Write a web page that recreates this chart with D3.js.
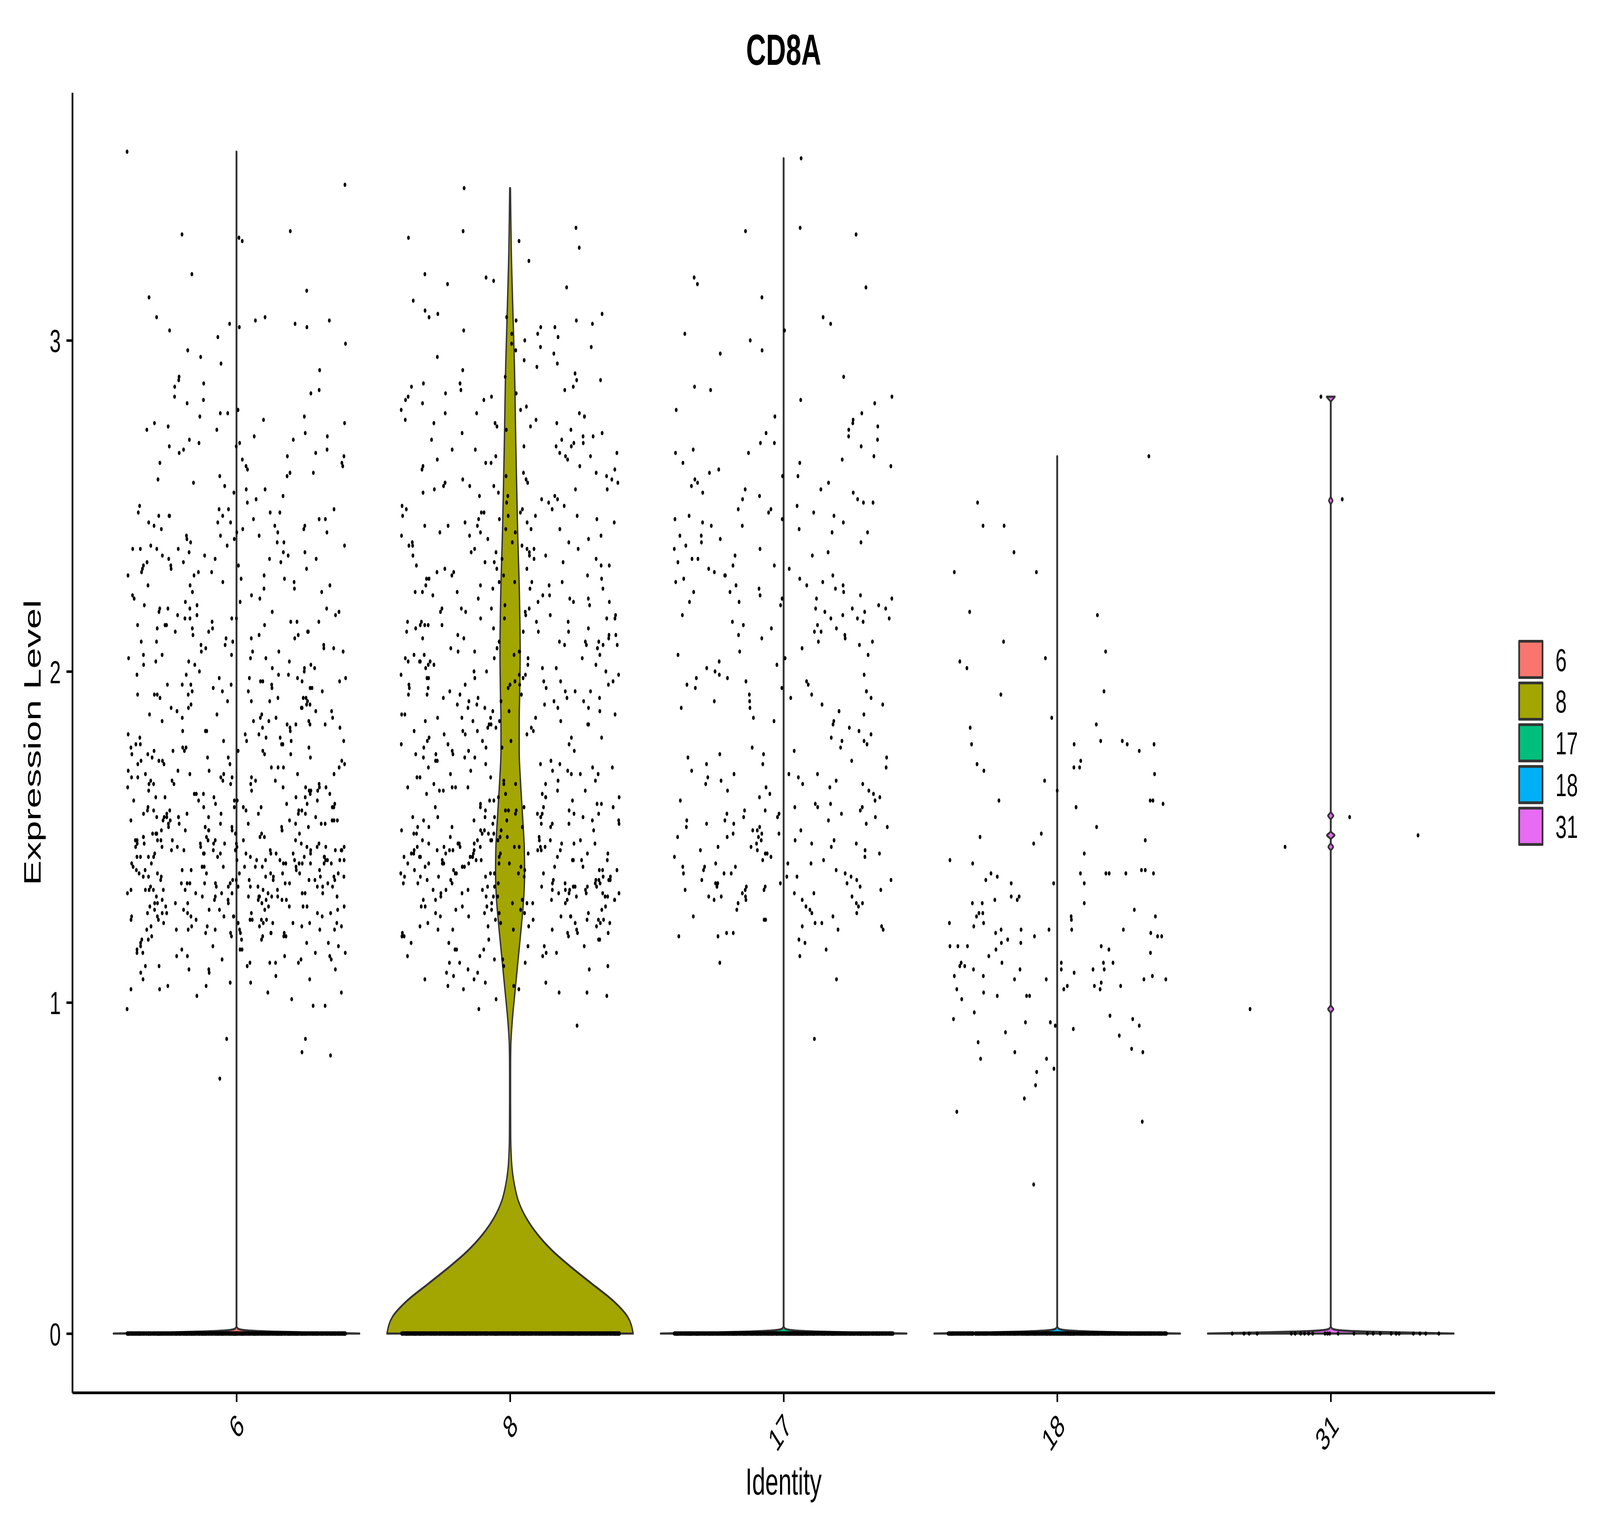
<!DOCTYPE html>
<html>
<head>
<meta charset="utf-8">
<script src="https://cdn.jsdelivr.net/npm/d3@7"></script>
<style>
html, body { margin: 0; padding: 0; background: #ffffff; overflow: hidden; width: 100%; height: 100%; }
svg { display: block; width: 100vw; height: 100vh; }
</style>
</head>
<body>
<svg id="chart" viewBox="0 0 6500 3932" preserveAspectRatio="none"></svg>
<script>
// ---------------- DATA ----------------
const clusters = ["6", "8", "17", "18", "31"];
const clusterColors = ["#F8766D", "#A3A500", "#00BF7D", "#00B0F6", "#E76BF3"];
const yTickValues = [0, 1, 2, 3];
const titleText = "CD8A";
const xTitleText = "Identity";
const yTitleText = "Expression Level";

// non-zero expression values (x100) read from the point clouds
const expr6 = [
357,347,333,332,331,330,320,315,313,
307,306,305,305,304,307,303,304,306,301,
299,295,293,297,291,
289,287,286,284,283,282,288,285,281,
278,277,275,273,271,279,274,276,272,270,278,271,275,273,277,270,
269,268,266,265,263,262,260,267,264,261,269,266,263,268,265,262,260,267,
259,257,255,253,251,258,254,252,256,250,259,255,
249,248,247,246,245,244,243,242,241,240,248,246,244,242,249,247,245,243,241,240,249,247,244,242,246,248,243,245,241,247,
239,238,237,236,235,234,233,232,231,230,238,236,234,232,239,237,235,233,231,230,239,237,234,232,236,238,233,235,231,237,234,230,
229,227,225,223,221,228,226,224,222,220,229,226,223,221,227,225,228,222,224,220,226,229,
219,217,215,213,211,218,216,214,212,210,219,215,212,217,214,211,218,216,213,210,219,216,214,212,217,215,211,218,213,210,216,219,214,212,215,
209,207,205,203,201,208,206,204,202,200,209,205,202,207,204,201,208,206,203,200,209,206,204,202,207,205,201,208,203,206,
199,197,195,193,191,198,196,194,192,190,199,195,192,197,194,191,198,196,193,190,199,196,194,192,197,195,191,198,193,190,196,199,194,192,195,197,193,198,191,196,
189,187,185,183,181,188,186,184,182,180,189,185,182,187,184,181,188,186,183,180,189,186,184,182,187,185,181,188,183,180,186,189,184,182,185,
179,177,175,173,171,178,176,174,172,170,179,175,172,177,174,171,178,176,173,170,179,176,174,172,177,175,171,178,173,170,176,179,174,172,175,177,173,178,171,176,
169,167,165,163,161,168,166,164,162,160,169,165,162,167,164,161,168,166,163,160,169,166,164,162,167,165,161,168,163,160,166,169,164,162,165,167,163,168,161,166,164,169,162,167,165,160,163,168,166,161,
159,157,155,153,151,158,156,154,152,150,159,155,152,157,154,151,158,156,153,150,159,156,154,152,157,155,151,158,153,150,156,159,154,152,155,157,153,158,151,156,154,159,152,157,155,150,153,158,156,151,157,154,159,152,155,150,158,153,156,151,157,154,152,159,155,
149,147,145,143,141,148,146,144,142,140,149,145,142,147,144,141,148,146,143,140,149,146,144,142,147,145,141,148,143,140,146,149,144,142,145,147,143,148,141,146,144,149,142,147,145,140,143,148,146,141,147,144,149,142,145,140,148,143,146,141,147,144,142,149,145,143,146,148,141,144,147,142,145,149,140,143,146,148,142,145,147,141,144,149,143,
139,137,135,133,131,138,136,134,132,130,139,135,132,137,134,131,138,136,133,130,139,136,134,132,137,135,131,138,133,130,136,139,134,132,135,137,133,138,131,136,134,139,132,137,135,130,133,138,136,131,137,134,139,132,135,130,138,133,136,131,137,134,132,139,135,133,136,138,131,134,137,132,135,139,130,133,136,138,132,135,
129,127,125,123,121,128,126,124,122,120,129,125,122,127,124,121,128,126,123,120,129,126,124,122,127,125,121,128,123,120,126,129,124,122,125,127,123,128,121,126,124,129,122,127,125,120,123,128,126,121,127,124,129,122,125,120,128,123,126,121,127,124,122,129,125,
119,117,115,113,111,118,116,114,112,110,119,115,112,117,114,111,118,116,113,110,119,116,114,112,117,115,111,118,113,110,116,119,114,112,115,
109,107,105,103,108,106,104,102,109,105,101,107,104,103,106,
99,98,99,89,89,84,85,77
];

const expr8 = [
346,333,331,330,334,328,324,320,319,318,317,316,312,
309,308,307,306,305,304,303,302,301,300,308,306,304,302,307,
299,298,297,295,294,293,292,291,296,298,290,
289,288,287,286,285,284,283,282,281,280,288,286,284,282,287,285,283,
279,278,277,276,275,274,273,272,271,270,278,276,274,272,279,277,275,273,271,270,278,275,
269,268,267,266,265,264,263,262,261,260,268,266,264,262,269,267,265,263,261,260,268,265,
259,258,257,256,255,254,253,252,251,250,258,256,254,252,259,257,255,253,251,250,258,255,253,257,256,
249,248,247,246,245,244,243,242,241,240,248,246,244,242,249,247,245,243,241,240,249,247,244,242,246,248,243,245,241,247,
239,238,237,236,235,234,233,232,231,230,238,236,234,232,239,237,235,233,231,230,239,237,234,232,236,238,233,235,231,237,
229,228,227,226,225,224,223,222,221,220,228,226,224,222,229,227,225,223,221,220,229,227,224,222,226,228,223,225,221,227,
219,217,215,213,211,218,216,214,212,210,219,215,212,217,214,211,218,216,213,210,219,216,214,212,217,215,211,218,213,210,216,219,214,212,215,
209,207,205,203,201,208,206,204,202,200,209,205,202,207,204,201,208,206,203,200,209,206,204,202,207,205,201,208,203,200,206,209,204,202,205,207,203,208,
199,197,195,193,191,198,196,194,192,190,199,195,192,197,194,191,198,196,193,190,199,196,194,192,197,195,191,198,193,190,196,199,194,192,195,197,193,198,191,196,
189,187,185,183,181,188,186,184,182,180,189,185,182,187,184,181,188,186,183,180,189,186,184,182,187,185,181,188,183,180,186,189,184,182,185,
179,177,175,173,171,178,176,174,172,170,179,175,172,177,174,171,178,176,173,170,179,176,174,172,177,175,171,178,173,170,
169,167,165,163,161,168,166,164,162,160,169,165,162,167,164,161,168,166,163,160,169,166,164,162,167,165,161,168,163,160,166,169,164,162,165,
159,157,155,153,151,158,156,154,152,150,159,155,152,157,154,151,158,156,153,150,159,156,154,152,157,155,151,158,153,150,156,159,154,152,155,157,153,158,151,156,154,159,152,157,155,150,153,158,156,151,
149,147,145,143,141,148,146,144,142,140,149,145,142,147,144,141,148,146,143,140,149,146,144,142,147,145,141,148,143,140,146,149,144,142,145,147,143,148,141,146,144,149,142,147,145,140,143,148,146,141,147,144,149,142,145,140,148,143,146,141,147,144,142,149,145,143,146,148,141,144,147,142,145,149,140,
139,137,135,133,131,138,136,134,132,130,139,135,132,137,134,131,138,136,133,130,139,136,134,132,137,135,131,138,133,130,136,139,134,132,135,137,133,138,131,136,134,139,132,137,135,130,133,138,136,131,137,134,139,132,135,130,138,133,136,131,137,134,132,139,135,133,136,138,131,134,
129,127,125,123,121,128,126,124,122,120,129,125,122,127,124,121,128,126,123,120,129,126,124,122,127,125,121,128,123,120,126,129,124,122,125,127,123,128,121,126,124,129,122,127,125,
119,117,115,113,111,118,116,114,112,110,119,115,112,117,114,111,118,116,113,110,119,116,114,112,117,
109,107,105,103,108,106,104,102,109,105,101,107,104,103,106,
98,93
];

const expr17 = [
355,334,333,332,319,317,316,313,307,305,303,302,300,297,296,
289,286,285,283,282,281,
279,278,277,276,274,273,272,271,270,275,
269,268,266,265,263,262,260,267,264,261,269,266,263,
259,257,255,253,251,258,256,254,252,250,259,255,252,257,254,251,
249,247,245,243,241,248,246,244,242,240,249,245,242,247,244,241,248,246,
239,237,235,233,231,238,236,234,232,230,239,235,232,237,234,231,
229,227,225,223,221,228,226,224,222,220,229,225,222,227,224,221,228,226,223,220,229,226,224,222,
219,217,215,213,211,218,216,214,212,210,219,215,212,217,214,211,218,216,213,210,219,216,
209,207,205,203,201,208,206,204,202,200,209,205,
199,197,195,193,191,198,196,194,192,190,199,195,192,197,194,191,198,196,193,190,
189,187,185,183,181,188,186,184,182,180,189,185,
179,177,175,173,171,178,176,174,172,170,179,175,172,177,174,
169,167,165,163,161,168,166,164,162,160,169,165,162,167,164,161,168,166,163,160,169,166,
159,157,155,153,151,158,156,154,152,150,159,155,152,157,154,151,158,156,153,150,159,156,154,152,157,155,151,158,153,150,
149,147,145,143,141,148,146,144,142,140,149,145,142,147,144,141,148,146,143,140,149,146,144,142,147,145,141,148,
139,137,135,133,131,138,136,134,132,130,139,135,132,137,134,131,138,136,133,130,139,136,134,132,137,135,131,138,133,130,136,139,134,132,135,
129,127,125,123,121,128,126,124,122,120,129,125,122,127,124,121,128,126,123,120,
119,116,114,112,118,107,89
];

// clusters 18 and 31: [horizontal jitter (fraction of category step), expression]
const cells18 = [
[0.335,2.65],[-0.291,2.51],[-0.271,2.44],[-0.194,2.44],[-0.158,2.36],[-0.376,2.30],[-0.076,2.30],[-0.320,2.18],[0.147,2.17],[-0.196,2.09],
[0.177,2.06],[-0.043,2.04],[-0.356,2.03],[-0.330,2.01],[0.171,1.94],[-0.206,1.93],[-0.020,1.86],[0.143,1.84],[-0.318,1.83],[0.238,1.79],
[0.159,1.79],[0.256,1.78],[-0.313,1.78],[0.062,1.78],[0.354,1.78],[0.300,1.76],[0.086,1.73],[-0.293,1.72],[0.082,1.71],[0.061,1.71],
[-0.268,1.70],[0.356,1.69],[-0.046,1.67],[0.000,1.64],[-0.213,1.61],[0.350,1.61],[0.340,1.61],[0.387,1.60],[0.069,1.59],[0.144,1.53],
[-0.058,1.51],[-0.282,1.50],[0.322,1.49],[-0.086,1.48],[0.099,1.45],[-0.392,1.43],[-0.309,1.42],[0.308,1.40],[0.322,1.40],[0.085,1.39],
[0.178,1.39],[0.251,1.39],[-0.242,1.39],[0.190,1.39],[0.352,1.39],[-0.219,1.38],[-0.261,1.37],[-0.168,1.36],[-0.013,1.36],[0.099,1.36],
[-0.168,1.32],[-0.139,1.32],[-0.228,1.31],[-0.146,1.31],[-0.310,1.30],[-0.274,1.30],[0.099,1.30],[0.282,1.28],[-0.286,1.27],[-0.272,1.27],
[-0.295,1.26],[0.051,1.26],[0.359,1.26],[0.052,1.25],[-0.394,1.24],[-0.269,1.24],[-0.305,1.23],[-0.205,1.22],[0.053,1.22],[0.242,1.22],
[-0.132,1.22],[-0.030,1.22],[-0.225,1.21],[0.342,1.21],[0.367,1.20],[0.382,1.20],[-0.083,1.20],[-0.181,1.19],[-0.133,1.18],[-0.204,1.18],
[-0.392,1.17],[-0.363,1.17],[-0.328,1.17],[0.161,1.17],[0.189,1.16],[-0.224,1.16],[0.341,1.15],[-0.250,1.14],[-0.351,1.12],[0.015,1.12],
[0.169,1.12],[-0.202,1.12],[0.204,1.12],[-0.338,1.11],[-0.356,1.11],[0.131,1.10],[0.172,1.10],[-0.306,1.10],[-0.136,1.10],[0.015,1.10],
[0.062,1.09],[-0.270,1.08],[0.348,1.08],[-0.376,1.08],[-0.156,1.07],[-0.040,1.07],[0.317,1.07],[0.397,1.07],[0.161,1.06],[0.232,1.05],
[0.037,1.05],[0.136,1.05],[0.157,1.04],[-0.367,1.04],[0.024,1.04],[-0.269,1.03],[-0.219,1.02],[-0.112,1.02],[-0.101,1.02],[-0.349,1.01],
[-0.303,0.97],[0.193,0.96],[-0.379,0.95],[0.276,0.95],[-0.116,0.94],[-0.025,0.94],[-0.007,0.93],[0.300,0.93],[0.059,0.92],[-0.189,0.91],
[0.227,0.90],[-0.289,0.88],[0.272,0.86],[0.313,0.85],[-0.155,0.85],[-0.280,0.83],[-0.039,0.83],[-0.012,0.80],[-0.075,0.79],[-0.079,0.75],
[-0.120,0.71],[-0.367,0.67],[0.311,0.64],[-0.086,0.45]
];

const cells31 = [
[-0.036,2.83],[0.042,2.52],[0.069,1.56],[0.319,1.505],[-0.167,1.47],[-0.295,0.98],
[-0.360,0],[-0.317,0],[-0.298,0],[-0.269,0],[-0.144,0],[-0.130,0],[-0.110,0],[-0.096,0],[-0.081,0],[-0.066,0],
[-0.021,0],[-0.012,0],[-0.004,0],[0.027,0],[0.085,0],[0.134,0],[0.155,0],[0.181,0],[0.221,0],[0.239,0],
[0.250,0],[0.302,0],[0.326,0],[0.347,0],[0.395,0]
];

// number of zero-expression cells in clusters 6, 8, 17, 18 (31 listed above)
const zeroCells = [1500, 1500, 1500, 1200, 0];

// violin outlines: [expression, half width relative to the widest violin]
const violin6 = [[0,1],[0.003,0.62],[0.006,0.28],[0.01,0.07],[0.015,0.012],[0.022,0.002],[3.57,0.002]];
const violin8 = [[0,1],[0.05,0.956],[0.10,0.834],[0.15,0.666],[0.20,0.498],[0.25,0.344],[0.30,0.222],[0.35,0.13],
  [0.40,0.068],[0.45,0.035],[0.50,0.016],[0.55,0.008],[0.60,0.005],[0.70,0.004],[0.80,0.004],[0.87,0.006],[0.94,0.017],
  [1.04,0.042],[1.14,0.068],[1.24,0.094],[1.31,0.11],[1.39,0.118],[1.46,0.116],[1.56,0.102],[1.66,0.086],[1.76,0.074],
  [1.85,0.074],[1.93,0.078],[2.06,0.082],[2.23,0.076],[2.43,0.061],[2.68,0.047],[2.93,0.035],[3.10,0.022],[3.27,0.01],
  [3.40,0.005],[3.46,0.003]];
const violin17 = [[0,1],[0.003,0.62],[0.006,0.28],[0.01,0.07],[0.015,0.012],[0.022,0.002],[3.55,0.002]];
const violin18 = [[0,1],[0.003,0.62],[0.006,0.28],[0.01,0.07],[0.015,0.012],[0.022,0.002],[2.65,0.002]];
const violin31 = [[0,1],[0.003,0.62],[0.006,0.28],[0.01,0.07],[0.015,0.012],[0.022,0.002],
  [0.968,0.002],[0.974,0.011],[0.98,0.023],[0.986,0.011],[0.992,0.002],
  [1.458,0.002],[1.464,0.01],[1.47,0.021],[1.476,0.01],[1.482,0.002],
  [1.493,0.002],[1.499,0.015],[1.505,0.032],[1.511,0.015],[1.517,0.002],
  [1.552,0.002],[1.558,0.011],[1.564,0.023],[1.570,0.011],[1.576,0.002],
  [2.504,0.002],[2.510,0.008],[2.516,0.016],[2.522,0.008],[2.528,0.002],
  [2.814,0.002],[2.820,0.012],[2.825,0.024],[2.83,0.034]];

// ---------------- CHART ----------------
const FONT = "'Liberation Sans', Arial, Helvetica, sans-serif";
const svg = d3.select("#chart");
const panel = { left: 294, right: 6073, top: 237, bottom: 3565 };

// deterministic horizontal spread (quadratic Weyl sequence) standing in for ggplot's jitter
const frac = v => v - Math.floor(v);
const spread = (i, k) => (frac(i * 0.6180339887 + i * i * 0.3774388331 + k * 0.29) - 0.5) * 0.8;

const cellsBy = [];
[expr6, expr8, expr17].forEach((arr, k) => {
  cellsBy[k] = arr.map((v, i) => [spread(i, k), v / 100]);
});
cellsBy[3] = cells18.slice();
cellsBy[4] = cells31.slice();
zeroCells.forEach((n, k) => {
  for (let i = 0; i < n; i++) cellsBy[k].push([spread(i + 7, k + 3), 0]);
});

const yMax = d3.max(cellsBy.flat(), d => d[1]);
const yPad = yMax * 0.05;
const y = d3.scaleLinear().domain([-yPad, yMax + yPad]).range([panel.bottom, panel.top]);
const x = d3.scalePoint().domain(clusters).range([panel.left, panel.right]).padding(0.6);
const step = x.step();
const color = d3.scaleOrdinal().domain(clusters).range(clusterColors);

// violins
const violins = [violin6, violin8, violin17, violin18, violin31];
const gV = svg.append("g");
violins.forEach((prof, k) => {
  const cx = x(clusters[k]);
  const area = d3.area()
    .curve(d3.curveMonotoneY)
    .y(d => y(d[0]))
    .x0(d => cx - d[1] * 0.45 * step)
    .x1(d => cx + d[1] * 0.45 * step);
  gV.append("path")
    .attr("d", area(prof))
    .attr("fill", color(clusters[k]))
    .attr("stroke", "#333333")
    .attr("stroke-width", 5.5)
    .attr("stroke-linejoin", "round");
});

// jittered cells
const gP = svg.append("g").attr("fill", "#000000");
cellsBy.forEach((cells, k) => {
  const cx = x(clusters[k]);
  gP.selectAll(null).data(cells).join("circle")
    .attr("cx", d => cx + d[0] * step)
    .attr("cy", d => y(d[1]))
    .attr("r", 5.5);
});

// axes
const yAxis = d3.axisLeft(y).tickValues(yTickValues).tickFormat(d3.format("d"))
  .tickSize(24).tickSizeOuter(0).tickPadding(23);
const gy = svg.append("g").attr("transform", `translate(${panel.left},0)`).call(yAxis);
gy.select(".domain").attr("stroke", "#000").attr("stroke-width", 7);
gy.selectAll(".tick line").attr("stroke", "#000").attr("stroke-width", 6.5);
gy.selectAll(".tick text").attr("font-size", 82).attr("font-family", FONT)
  .attr("fill", "#000").attr("dy", "0.36em");

const xAxis = d3.axisBottom(x).tickSize(24).tickSizeOuter(0);
const gx = svg.append("g").attr("transform", `translate(0,${panel.bottom})`).call(xAxis);
gx.select(".domain").attr("stroke", "#000").attr("stroke-width", 7);
gx.selectAll(".tick line").attr("stroke", "#000").attr("stroke-width", 6.5);
gx.selectAll(".tick text").attr("font-size", 82).attr("font-family", FONT).attr("fill", "#000")
  .attr("x", null).attr("y", null).attr("dy", null)
  .attr("text-anchor", "end")
  .attr("transform", "translate(36,90) rotate(-45)");

// titles
const cxPanel = (panel.left + panel.right) / 2;
svg.append("text").attr("x", cxPanel).attr("y", 166).attr("text-anchor", "middle")
  .attr("font-family", FONT).attr("font-weight", "bold").attr("font-size", 112).attr("fill", "#000")
  .text(titleText);
svg.append("text").attr("x", cxPanel).attr("y", 3826).attr("text-anchor", "middle")
  .attr("font-family", FONT).attr("font-size", 96).attr("fill", "#000")
  .text(xTitleText);
svg.append("text").attr("transform", `translate(165,${(panel.top + panel.bottom) / 2}) rotate(-90)`)
  .attr("text-anchor", "middle")
  .attr("font-family", FONT).attr("font-size", 96).attr("fill", "#000")
  .text(yTitleText);

// legend
const gL = svg.append("g").attr("transform", "translate(6168,1638)");
const keyStep = 106.8;
const leg = gL.selectAll("g").data(clusters).join("g")
  .attr("transform", (d, i) => `translate(0,${i * keyStep})`);
leg.append("rect").attr("x", 3.5).attr("y", 3.5).attr("width", 95).attr("height", 93)
  .attr("fill", d => color(d)).attr("stroke", "#333333").attr("stroke-width", 7)
  .attr("stroke-linejoin", "round");
leg.append("text").attr("x", 151).attr("y", 50).attr("dy", "0.36em")
  .attr("font-family", FONT).attr("font-size", 82).attr("fill", "#000")
  .text(d => d);
</script>
</body>
</html>
